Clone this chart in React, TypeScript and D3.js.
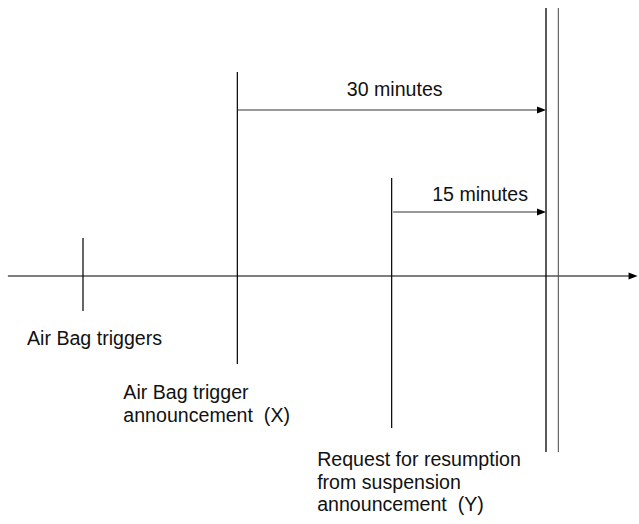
import React from "react";
import * as d3 from "d3";

// Event times in minutes relative to Air Bag trigger announcement (X)
const eventNames = ["Air Bag triggers", "Air Bag trigger announcement (X)", "Request for resumption from suspension announcement (Y)"];
const eventTimes = [-15, 0, 15];
const eventLabels = [
  ["Air Bag triggers"],
  ["Air Bag trigger", "announcement  (X)"],
  ["Request for resumption", "from suspension", "announcement  (Y)"],
];
const deadlineTimes = [30, 31.2];
const intervalStarts = [0, 15];
const intervalEnds = [30, 30];
const intervalLabels = ["30 minutes", "15 minutes"];
const axisDomain = [-22.3, 38.9];

const W = 639;
const H = 524;

export default function App() {
  const x = d3.scaleLinear().domain([-15, 30]).range([83, 546]);
  const axisY = 276;
  // vertical extents for each event tick [top, bottom]
  const tickExt: [number, number][] = [
    [238, 311],
    [72, 364],
    [178, 428],
  ];
  // label positions: first baseline, left offset
  const labelPos = [
    { dx: -56, y: 345 },
    { dx: -114, y: 399 },
    { dx: -74.5, y: 466 },
  ];
  const intervalY = [110, 212];
  const intervalTextY = [96, 200.5];
  const lineH = 22.7;
  const fs = 19.6;
  const font = "'Liberation Sans', Arial, sans-serif";

  const arrowHead = (tipX: number, y: number, len = 9, half = 3.5) =>
    `M${tipX},${y} L${tipX - len},${y - half} L${tipX - len},${y + half} Z`;

  return (
    <svg
      width={W}
      height={H}
      style={{ position: "absolute", left: 0, top: 0, background: "#fff" }}
      fontFamily={font}
    >
      {/* time axis */}
      <line x1={x(axisDomain[0])} x2={x(axisDomain[1]) - 4} y1={axisY} y2={axisY} stroke="#000" strokeWidth={1.2} />
      <path d={arrowHead(x(axisDomain[1]), axisY, 9, 3.5)} fill="#000" />

      {/* event ticks and labels */}
      {eventTimes.map((t, i) => (
        <g key={eventNames[i]}>
          <line x1={x(t)} x2={x(t)} y1={tickExt[i][0]} y2={tickExt[i][1]} stroke="#000" strokeWidth={1.2} />
          <text x={x(t) + labelPos[i].dx} y={labelPos[i].y} fontSize={fs} fill="#111">
            {eventLabels[i].map((ln, j) => (
              <tspan key={j} x={x(t) + labelPos[i].dx} y={labelPos[i].y + j * lineH} style={{ whiteSpace: "pre" }}>
                {ln}
              </tspan>
            ))}
          </text>
        </g>
      ))}

      {/* deadline double line */}
      {deadlineTimes.map((t, i) => (
        <line
          key={i}
          x1={x(t)}
          x2={x(t)}
          y1={8}
          y2={452}
          stroke={i === 0 ? "#000" : "#555"}
          strokeWidth={i === 0 ? 1.3 : 1.1}
        />
      ))}

      {/* interval arrows */}
      {intervalStarts.map((s, i) => {
        const x0 = x(s) + (i === 1 ? 1.5 : 0);
        const x1 = x(intervalEnds[i]);
        return (
          <g key={intervalLabels[i]}>
            <line x1={x0} x2={x1 - 6} y1={intervalY[i]} y2={intervalY[i]} stroke="#333" strokeWidth={1.2} />
            <path d={arrowHead(x1, intervalY[i], 9, 3.5)} fill="#000" />
            <text
              x={i === 0 ? (x(s) + x1) / 2 + 3 : x1 - 18}
              y={intervalTextY[i]}
              fontSize={fs}
              textAnchor={i === 0 ? "middle" : "end"}
              fill="#111"
            >
              {intervalLabels[i]}
            </text>
          </g>
        );
      })}
    </svg>
  );
}
